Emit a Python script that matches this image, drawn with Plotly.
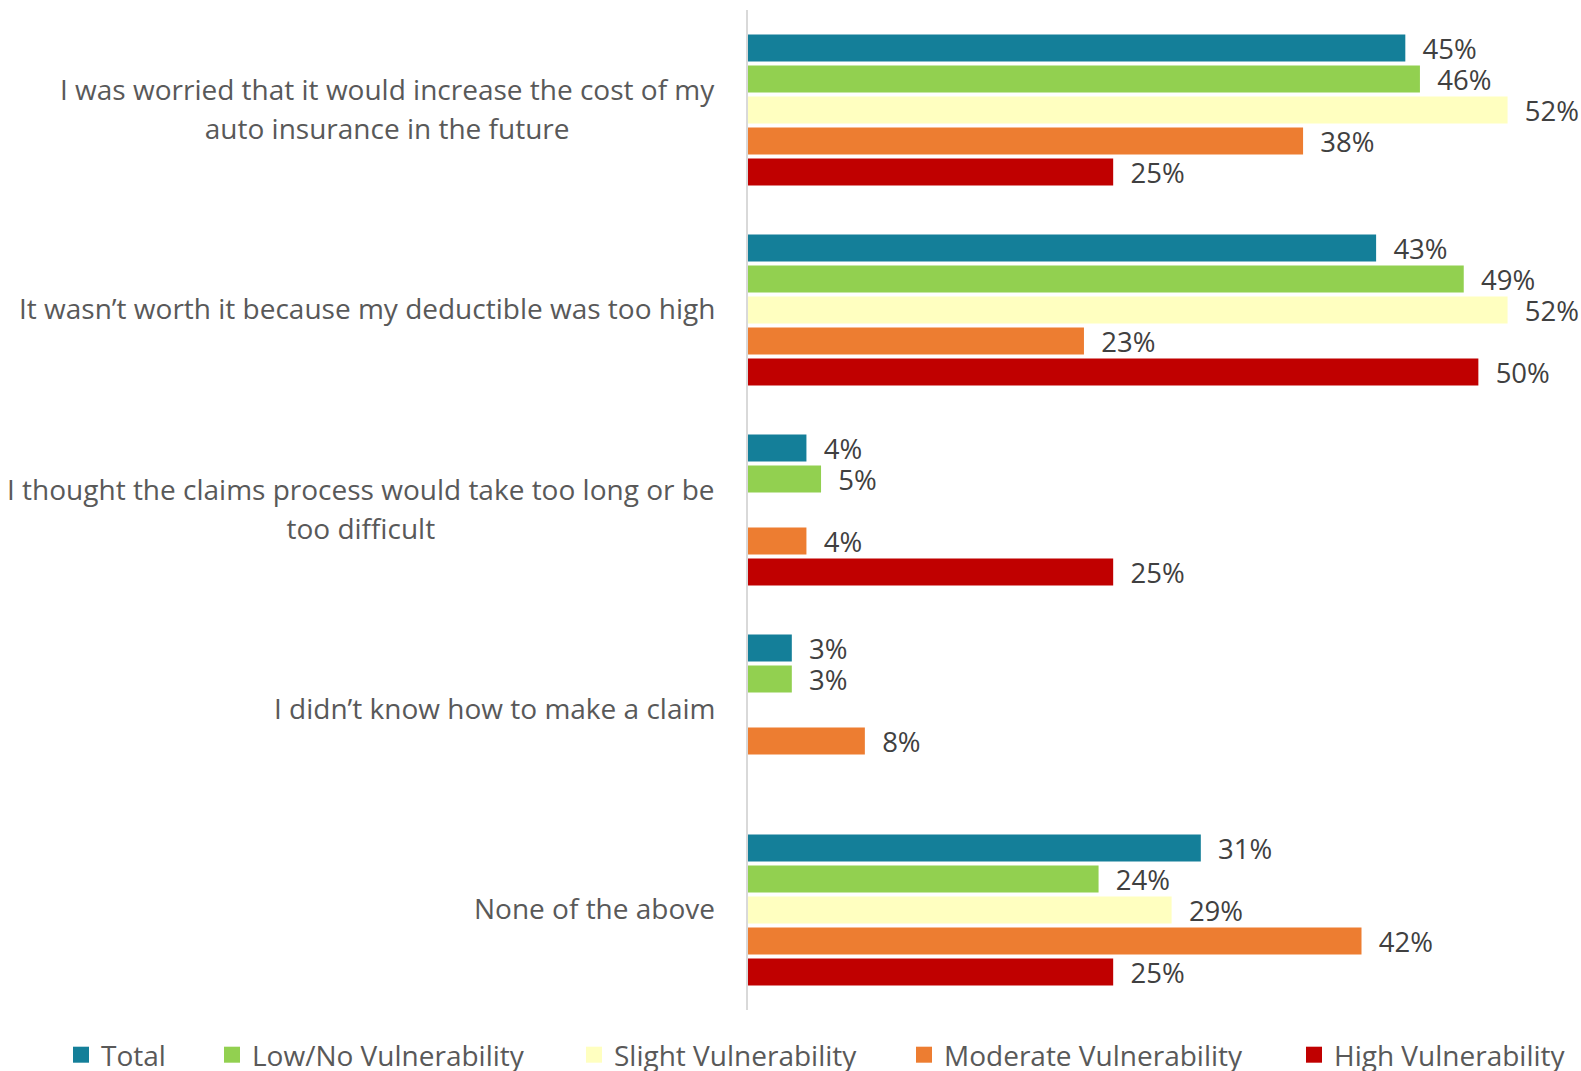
import plotly.graph_objects as go

# Survey reasons for not filing a claim, split by vulnerability segment
category_lines = [
    ["I was worried that it would increase the cost of my", "auto insurance in the future"],
    ["It wasn\u2019t worth it because my deductible was too high"],
    ["I thought the claims process would take too long or be", "too difficult"],
    ["I didn\u2019t know how to make a claim"],
    ["None of the above"],
]
categories = [" ".join(lines) for lines in category_lines]

series_names = [
    "Total",
    "Low/No Vulnerability",
    "Slight Vulnerability",
    "Moderate Vulnerability",
    "High Vulnerability",
]
total = [45, 43, 4, 3, 31]
low_no = [46, 49, 5, 3, 24]
slight = [52, 52, None, None, 29]
moderate = [38, 23, 4, 8, 42]
high = [25, 50, 25, None, 25]
series_values = [total, low_no, slight, moderate, high]

colors = ["#147f99", "#92d050", "#ffffc0", "#ed7d31", "#c00000"]

FONT = "Open Sans"
W, H = 1581, 1071
ML, MR, MT, MB = 748, 15, 10, 61

fig = go.Figure()

for name, vals, col in zip(series_names, series_values, colors):
    fig.add_trace(go.Bar(
        y=categories,
        x=vals,
        name=name,
        orientation="h",
        marker=dict(color=col, line=dict(width=0)),
        texttemplate="\u00a0\u00a0%{x}%",
        textposition="outside",
        textangle=0,
        constraintext="none",
        cliponaxis=False,
        textfont=dict(family=FONT, size=27.5, color="#404040"),
        showlegend=False,
        hoverinfo="skip",
    ))

# Legend entries: one legend per series so each can sit at its own spot
legend_x = [61, 212, 574, 904, 1294]
for i, (name, col) in enumerate(zip(series_names, colors)):
    key = "legend" if i == 0 else f"legend{i + 1}"
    fig.add_trace(go.Scatter(
        x=[None], y=[None], mode="markers", name=name,
        marker=dict(symbol="square", size=16, color=col),
        legend=key, showlegend=True, hoverinfo="skip",
    ))
    fig.layout[key] = dict(
        x=legend_x[i] / W, y=(H - 1055) / H,
        xref="container", yref="container",
        xanchor="left", yanchor="middle",
        orientation="h", bgcolor="rgba(0,0,0,0)", borderwidth=0,
        font=dict(family=FONT, size=28, color="#595959"),
    )

# Category labels, centred line by line to the left of the axis
for cat, lines in zip(categories, category_lines):
    txt = "<br>".join(f"<span style='font-size:28px'>{ln}</span>" for ln in lines)
    fig.add_annotation(
        x=0, xref="paper", y=cat, yref="y",
        text=txt, showarrow=False,
        xanchor="right", yanchor="middle", align="center",
        xshift=-31, yshift=2,
        font=dict(family=FONT, size=30, color="#595959"),
    )

fig.update_layout(
    width=W, height=H,
    margin=dict(l=ML, r=MR, t=MT, b=MB),
    paper_bgcolor="white", plot_bgcolor="white",
    barmode="group", bargap=0.225, bargroupgap=0.13,
    font=dict(family=FONT, color="#595959"),
    xaxis=dict(range=[0, 56], visible=False, showgrid=False, zeroline=False),
    yaxis=dict(
        autorange="reversed", showticklabels=False, ticks="",
        showline=True, linecolor="#d9d9d9", linewidth=2,
        showgrid=False, zeroline=False,
    ),
)

fig.write_html("out.html")
